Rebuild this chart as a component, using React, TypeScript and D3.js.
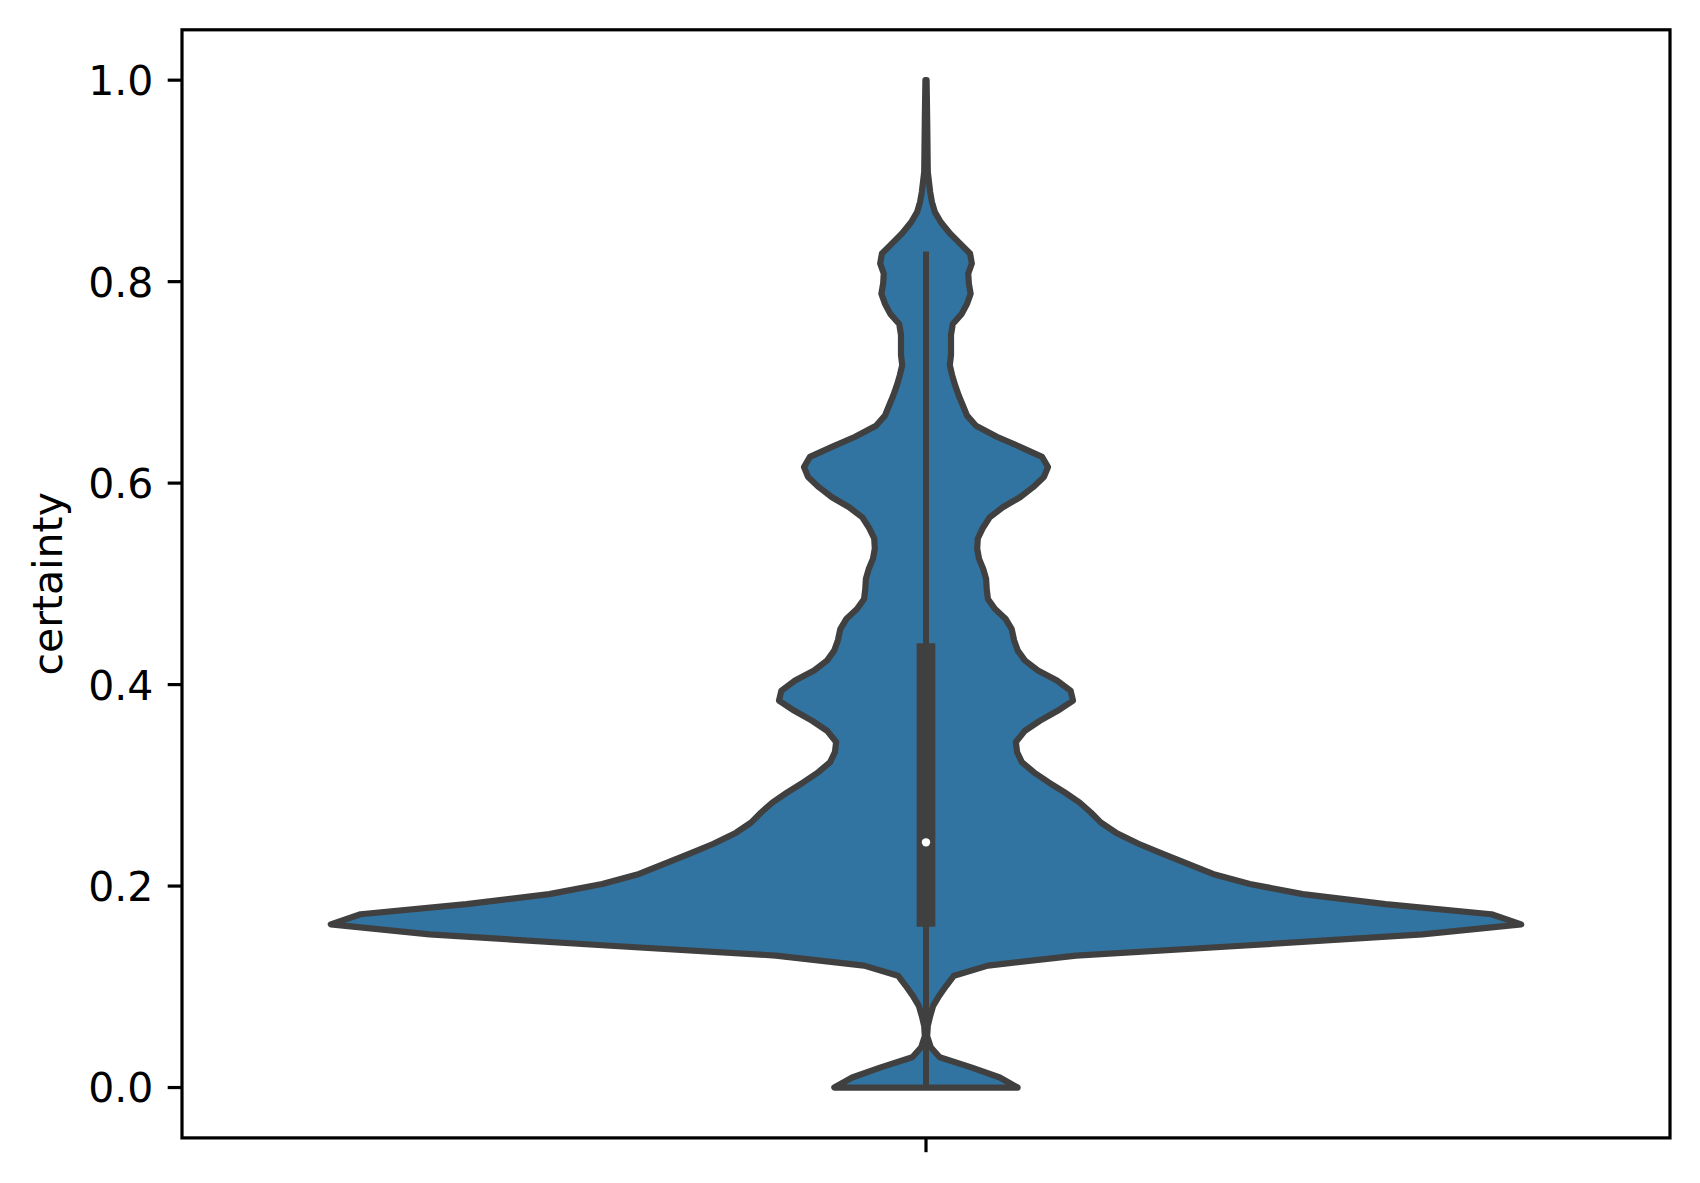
import React, { useEffect, useRef } from 'react';
import * as d3 from 'd3';

// KDE outline of "certainty" (relative width, 1 = widest)
const certaintyGrid = [
  0.000, 0.010, 0.020, 0.030, 0.040, 0.051, 0.061, 0.071, 0.081, 0.091,
  0.101, 0.111, 0.121, 0.131, 0.141, 0.152, 0.162, 0.172, 0.182, 0.192,
  0.202, 0.212, 0.222, 0.232, 0.242, 0.253, 0.263, 0.273, 0.283, 0.293,
  0.303, 0.313, 0.323, 0.333, 0.343, 0.354, 0.364, 0.374, 0.384, 0.394,
  0.404, 0.414, 0.424, 0.434, 0.444, 0.455, 0.465, 0.475, 0.485, 0.495,
  0.505, 0.515, 0.525, 0.535, 0.545, 0.556, 0.566, 0.576, 0.586, 0.596,
  0.606, 0.616, 0.626, 0.636, 0.646, 0.657, 0.667, 0.677, 0.687, 0.697,
  0.707, 0.717, 0.727, 0.737, 0.747, 0.758, 0.768, 0.778, 0.788, 0.798,
  0.808, 0.818, 0.828, 0.838, 0.848, 0.859, 0.869, 0.879, 0.889, 0.899,
  0.909, 0.960, 1.000,
];
const densityWidth = [
  0.154, 0.124, 0.076, 0.023, 0.008, 0.002, 0.003, 0.007, 0.012, 0.022,
  0.034, 0.047, 0.104, 0.252, 0.537, 0.834, 1.000, 0.950, 0.772, 0.633,
  0.544, 0.482, 0.440, 0.398, 0.357, 0.319, 0.294, 0.277, 0.258, 0.233,
  0.206, 0.181, 0.161, 0.153, 0.151, 0.166, 0.191, 0.221, 0.247, 0.243,
  0.220, 0.188, 0.166, 0.154, 0.148, 0.144, 0.134, 0.116, 0.104, 0.102,
  0.101, 0.096, 0.089, 0.086, 0.087, 0.096, 0.107, 0.129, 0.158, 0.180,
  0.198, 0.205, 0.195, 0.158, 0.119, 0.084, 0.069, 0.062, 0.055, 0.049,
  0.044, 0.040, 0.042, 0.042, 0.042, 0.045, 0.060, 0.069, 0.075, 0.072,
  0.071, 0.077, 0.074, 0.057, 0.040, 0.025, 0.015, 0.010, 0.007, 0.005,
  0.003, 0.002, 0.001,
];
const quartiles = [0.1597, 0.441];
const whiskers = [0.0, 0.83];
const median = 0.2434;
const yTicks = [0, 0.2, 0.4, 0.6, 0.8, 1.0];

const App = () => {
  const svgRef = useRef<SVGSVGElement>(null);

  useEffect(() => {
    const svg = d3.select(svgRef.current);
    svg.selectAll('*').remove();

    const W = 1700, H = 1183;
    const left = 182, right = 1670, top = 29.8, bottom = 1137.9;
    const fontSize = 41;
    const font = 'DejaVu Sans, sans-serif';
    const dark = '#404040';

    const x = d3.scaleLinear().domain([-0.5, 0.5]).range([left, right]);
    const y = d3.scaleLinear().domain([-0.05, 1.05]).range([bottom, top]);
    const halfWidth = (d: number) => d * 0.4;

    svg.append('rect').attr('width', W).attr('height', H).attr('fill', 'white');

    // violin body
    const pts: [number, number][] = [];
    certaintyGrid.forEach((v, i) => pts.push([x(halfWidth(densityWidth[i])), y(v)]));
    for (let i = certaintyGrid.length - 1; i >= 0; i--) {
      pts.push([x(-halfWidth(densityWidth[i])), y(certaintyGrid[i])]);
    }
    svg.append('path')
      .attr('d', d3.line().curve(d3.curveLinearClosed)(pts))
      .attr('fill', '#3274a1')
      .attr('stroke', dark)
      .attr('stroke-width', 6.2)
      .attr('stroke-linejoin', 'round');

    // inner box
    svg.append('line')
      .attr('x1', x(0)).attr('x2', x(0))
      .attr('y1', y(whiskers[0])).attr('y2', y(whiskers[1]))
      .attr('stroke', dark).attr('stroke-width', 6);
    svg.append('line')
      .attr('x1', x(0)).attr('x2', x(0))
      .attr('y1', y(quartiles[0])).attr('y2', y(quartiles[1]))
      .attr('stroke', dark).attr('stroke-width', 18.7);
    svg.append('circle')
      .attr('cx', x(0)).attr('cy', y(median)).attr('r', 4.2)
      .attr('fill', 'white');

    // frame
    svg.append('rect')
      .attr('x', left).attr('y', top)
      .attr('width', right - left).attr('height', bottom - top)
      .attr('fill', 'none').attr('stroke', 'black').attr('stroke-width', 3.2);

    // y ticks
    const tickLen = 14.3;
    const yt = svg.append('g');
    yTicks.forEach(t => {
      yt.append('line')
        .attr('x1', left - tickLen).attr('x2', left)
        .attr('y1', y(t)).attr('y2', y(t))
        .attr('stroke', 'black').attr('stroke-width', 3.2);
      yt.append('text')
        .attr('x', left - tickLen - 14.3)
        .attr('y', y(t) + 0.729 * fontSize / 2)
        .attr('text-anchor', 'end')
        .attr('font-family', font)
        .attr('font-size', fontSize)
        .attr('fill', 'black')
        .text(d3.format('.1f')(t));
    });

    // x tick (single unnamed category)
    svg.append('line')
      .attr('x1', x(0)).attr('x2', x(0))
      .attr('y1', bottom).attr('y2', bottom + tickLen)
      .attr('stroke', 'black').attr('stroke-width', 3.2);

    svg.append('text')
      .attr('transform', `translate(62,${(top + bottom) / 2}) rotate(-90)`)
      .attr('text-anchor', 'middle')
      .attr('font-family', font)
      .attr('font-size', fontSize)
      .attr('fill', 'black')
      .text('certainty');
  }, []);

  return (
    <svg ref={svgRef} width={1700} height={1183}
      style={{ position: 'absolute', left: 0, top: 0, display: 'block' }} />
  );
};

export default App;
